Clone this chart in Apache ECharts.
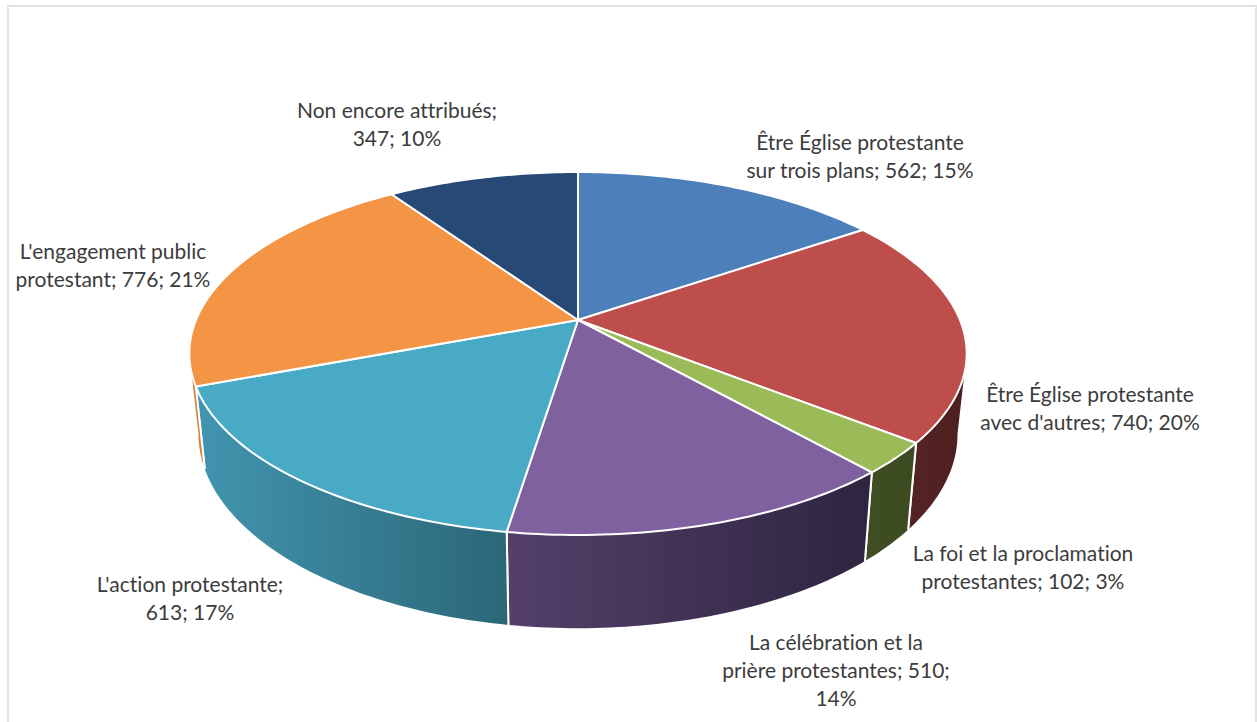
<!DOCTYPE html>
<html>
<head>
<meta charset="utf-8">
<title>Répartition</title>
<script src="https://cdn.jsdelivr.net/npm/echarts@6/dist/echarts.min.js"></script>
<style>
  html, body { margin: 0; padding: 0; background: #fff; }
  #chart { width: 1257px; height: 722px; }
  #chart text { font-variant-ligatures: none !important; }
</style>
</head>
<body>
<div id="chart"></div>
<script>
const categories = [
    'Être Église protestante sur trois plans',
    "Être Église protestante avec d'autres",
    'La foi et la proclamation protestantes',
    'La célébration et la prière protestantes',
    "L'action protestante",
    "L'engagement public protestant",
    'Non encore attribués'
];
const values = [562, 740, 102, 510, 613, 776, 347];
const labelTexts = [
    'Être Église protestante\nsur trois plans; 562; 15%',
    "Être Église protestante\navec d'autres; 740; 20%",
    'La foi et la proclamation\nprotestantes; 102; 3%',
    'La célébration et la\nprière protestantes; 510;\n14%',
    "L'action protestante;\n613; 17%",
    "L'engagement public\nprotestant; 776; 21%",
    'Non encore attribués;\n347; 10%'
];

// colours and label spots
const topColors = ['#4d7fba', '#bd4e4b', '#9bba58', '#7e619e', '#48aac4', '#f49545', '#264a75'];
const sideColors = [
    ['#2f4d71', '#2f4d71'],
    ['#4e1f20', '#552324'],
    ['#3c4a20', '#3f4e23'],
    ['#2e2540', '#54406a'],
    ['#2b6777', '#4295b0'],
    ['#d97f32', '#d97f32'],
    ['#172c46', '#172c46']
];
const labelSpots = [[860, 155], [1090, 407], [1023, 566], [836, 669], [190, 597], [113, 264], [397, 123.5]];

// perspective of the disc, fitted on the picture
const cx = 578;
const tilt = 0.1846;
const topPlane = { a: 382, b: 175.3, y0: 320 };
const bottomPlane = { a: 373, b: 187.7, y0: 398 };
const sideFrom = 100.6;  // where the rim turns away, right side
const sideTo = 259.4;    // left side

const total = values.reduce((s, v) => s + v, 0);
const starts = [];
values.reduce((s, v, i) => { starts[i] = s; return s + v; }, 0);
const toDeg = v => v / total * 360;

function project(deg, plane) {
    const t = deg * Math.PI / 180;
    const u = Math.sin(t);
    const v = Math.cos(t);
    const w = 1 + tilt * v;
    return [cx + plane.a * u / w, plane.y0 - plane.b * v / w];
}

function arc(from, to, plane) {
    const pts = [];
    const steps = Math.max(2, Math.ceil(Math.abs(to - from)));
    for (let i = 0; i <= steps; i++) {
        pts.push(project(from + (to - from) * i / steps, plane));
    }
    return pts;
}

function renderSide(params, api) {
    const i = params.dataIndex;
    const from = toDeg(starts[i]);
    const to = from + toDeg(api.value(0));
    const a = Math.max(from, sideFrom);
    const b = Math.min(to, sideTo);
    if (a >= b) return null;
    const points = arc(a, b, topPlane).concat(arc(b, a, bottomPlane));
    const children = [{
        type: 'polygon',
        shape: { points },
        style: {
            fill: new echarts.graphic.LinearGradient(0, 0, 1, 0, [
                { offset: 0, color: sideColors[i][1] },
                { offset: 1, color: sideColors[i][0] }
            ])
        }
    }];
    [from, to].forEach(d => {
        if (d < sideFrom || d > sideTo) return;
        const p1 = project(d, topPlane);
        const p2 = project(d, bottomPlane);
        children.push({
            type: 'line',
            shape: { x1: p1[0], y1: p1[1], x2: p2[0], y2: p2[1] },
            style: { stroke: '#fff', lineWidth: 2 }
        });
    });
    return { type: 'group', z2: 200 - Math.abs((a + b) / 2 - 180), children };
}

function renderTop(params, api) {
    const i = params.dataIndex;
    const from = toDeg(starts[i]);
    const to = from + toDeg(api.value(0));
    const points = [[cx, topPlane.y0]].concat(arc(from, to, topPlane));
    return {
        type: 'polygon',
        shape: { points },
        style: { fill: topColors[i], stroke: '#fff', lineWidth: 2, lineJoin: 'round' }
    };
}

function renderLabel(params) {
    const i = params.dataIndex;
    return {
        type: 'text',
        style: {
            text: labelTexts[i],
            x: labelSpots[i][0],
            y: labelSpots[i][1],
            align: 'center',
            verticalAlign: 'middle',
            lineHeight: 28,
            fill: '#3c3c3c',
            font: '21px Lato'
        }
    };
}

const chart = echarts.init(document.getElementById('chart'), null, { renderer: 'svg' });
const option = {
    animation: false,
    backgroundColor: '#fff',
    graphic: [{
        type: 'rect',
        shape: { x: 8, y: 6, width: 1248, height: 740 },
        style: { fill: 'none', stroke: '#e3e3e3', lineWidth: 2 }
    }],
    series: [
        { type: 'custom', name: 'sides', coordinateSystem: 'none', z: 2, data: values, renderItem: renderSide },
        { type: 'custom', name: 'tops', coordinateSystem: 'none', z: 3, data: values, renderItem: renderTop },
        { type: 'custom', name: 'labels', coordinateSystem: 'none', z: 4, data: values, renderItem: renderLabel }
    ]
};
chart.setOption(option);
</script>
</body>
</html>
